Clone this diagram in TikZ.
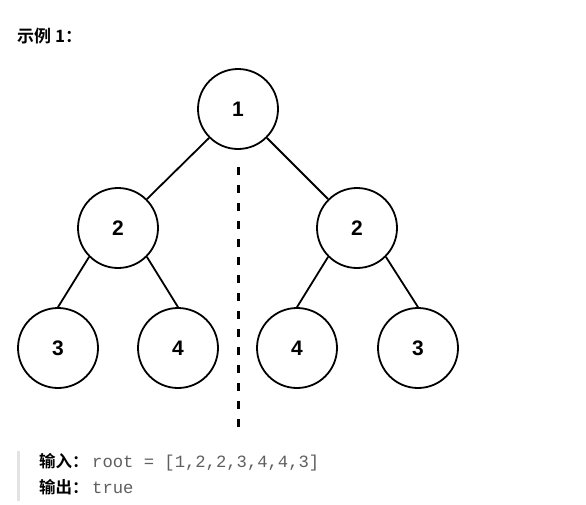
\documentclass[tikz,border=0pt]{standalone}
\usepackage{fontspec}
\setmainfont{Liberation Sans}
\newfontfamily\cjkb[BoldFont={Noto Sans CJK SC Bold}]{Noto Sans CJK SC}
\newfontfamily\codefont{Liberation Mono}
\definecolor{codegray}{HTML}{5F5F5F}
\definecolor{bargray}{HTML}{E3E3E3}
\begin{document}
\begin{tikzpicture}[x=1pt,y=-1pt,
  tn/.style={circle,draw,line width=1.8pt,minimum size=80pt,inner sep=0pt,
    font=\fontsize{21}{21}\selectfont\bfseries},
  edge/.style={line width=1.8pt},
  mirror/.style={line width=3pt,dash pattern=on 8pt off 10pt},
  lbl/.style={anchor=base west,inner sep=0pt,font=\cjkb\bfseries\fontsize{16.5}{16.5}\selectfont},
  code/.style={anchor=base west,inner sep=0pt,text=codegray,font=\codefont\fontsize{17.2}{17.2}\selectfont}]
\useasboundingbox (0,0) rectangle (586,504);
\node[lbl,font=\cjkb\bfseries\fontsize{17}{17}\selectfont] (title) at (17,42) {示例 1：};
\node[tn] (r) at (238,109) {1};
\node[tn] (l) at (118,228) {2};
\node[tn] (rr) at (357,228) {2};
\node[tn] (ll) at (58,348) {3};
\node[tn] (lr) at (178,348) {4};
\node[tn] (rl) at (297,348) {4};
\node[tn] (rrr) at (418,348) {3};
\draw[edge] (r.south west) -- (l.north east);
\draw[edge] (r.south east) -- (rr.north west);
\draw[edge] (l.south west) -- (ll.north);
\draw[edge] (l.south east) -- (lr.north);
\draw[edge] (rr.south west) -- (rl.north);
\draw[edge] (rr.south east) -- (rrr.north);
\coordinate (mtop) at (238,167);
\coordinate (mbot) at (238,428);
\draw[mirror] (mtop) -- (mbot);
\fill[bargray] (17,451) rectangle (20,501);
\node[lbl] (in) at (39,467) {输入：};
\node[code] (inv) at (92,467) {root = [1,2,2,3,4,4,3]};
\node[lbl] (out) at (39,493) {输出：};
\node[code] (outv) at (92,493) {true};
\end{tikzpicture}
\end{document}
